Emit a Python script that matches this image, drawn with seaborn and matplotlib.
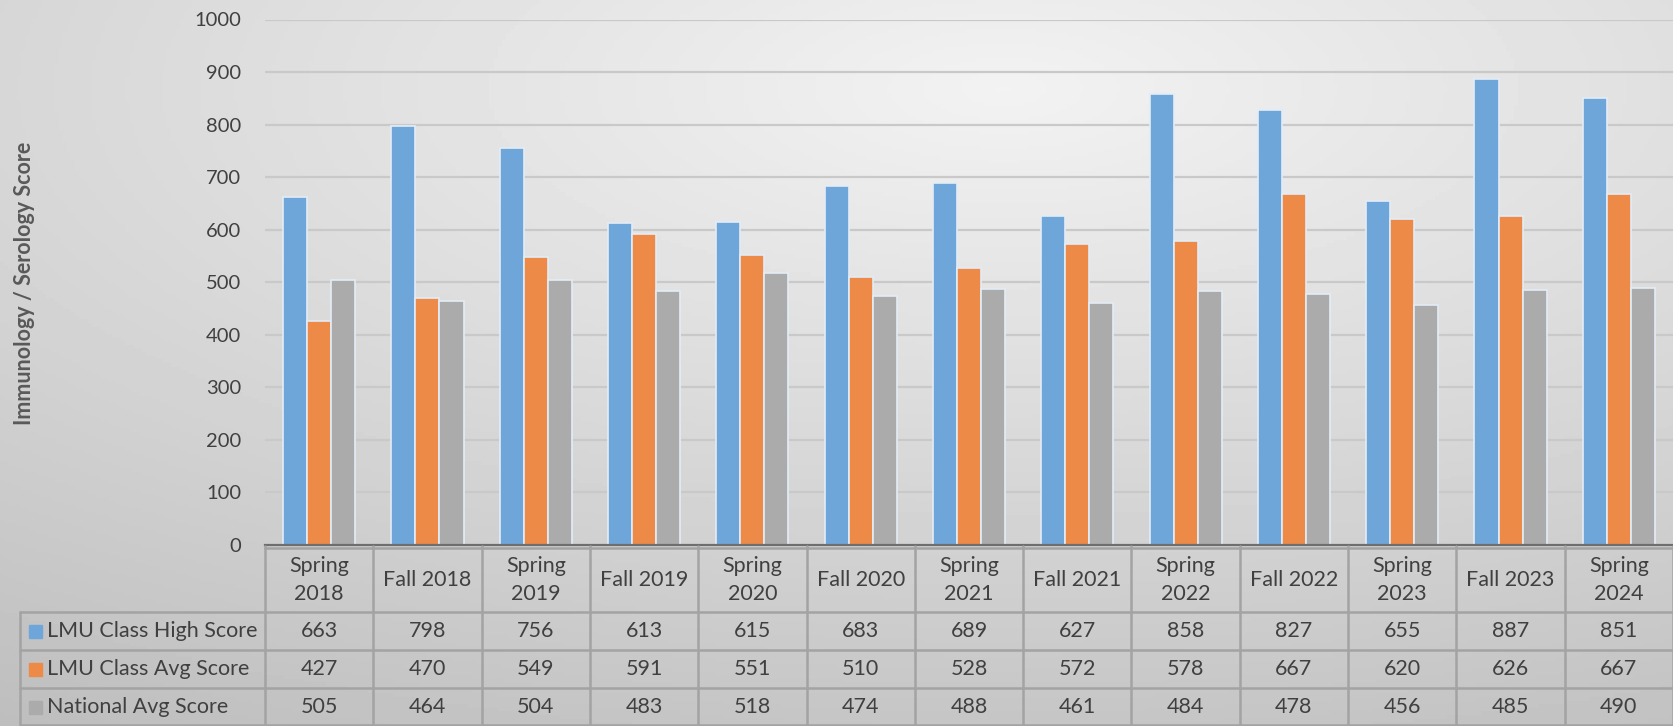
import numpy as np
import pandas as pd
import matplotlib
matplotlib.use("Agg")
import matplotlib.pyplot as plt
import seaborn as sns

categories = ["Spring\n2018", "Fall 2018", "Spring\n2019", "Fall 2019", "Spring\n2020", "Fall 2020",
              "Spring\n2021", "Fall 2021", "Spring\n2022", "Fall 2022", "Spring\n2023", "Fall 2023",
              "Spring\n2024"]
series_names = ["LMU Class High Score", "LMU Class Avg Score", "National Avg Score"]
high_score = [663, 798, 756, 613, 615, 683, 689, 627, 858, 827, 655, 887, 851]
avg_score = [427, 470, 549, 591, 551, 510, 528, 572, 578, 667, 620, 626, 667]
national_avg = [505, 464, 504, 483, 518, 474, 488, 461, 484, 478, 456, 485, 490]
y_ticks = [0, 100, 200, 300, 400, 500, 600, 700, 800, 900, 1000]
y_label = "Immunology / Serology Score"
colors = ["#6FA6DA", "#EE8A48", "#ABABAB"]

series_values = [high_score, avg_score, national_avg]
df = pd.DataFrame({
    "cat": categories * 3,
    "series": sum([[s] * len(categories) for s in series_names], []),
    "value": high_score + avg_score + national_avg,
})

sns.set_theme(style="white")
FONT = ["Lato", "DejaVu Sans"]
plt.rcParams["font.family"] = FONT
TXT = "#404040"

W, H = 1673, 726
fig = plt.figure(figsize=(W / 100, H / 100), dpi=100)

# background gradient
bg = fig.add_axes([0, 0, 1, 1], zorder=-10)
xx, yy = np.meshgrid(np.linspace(0, 1, 400), np.linspace(0, 1, 200))
dist = np.sqrt(((xx - 0.6) / 1.0) ** 2 + ((yy - 0.12) / 0.9) ** 2)
img = 0.95 - 0.18 * dist
bg.imshow(img, cmap="gray", vmin=0, vmax=1, aspect="auto", extent=[0, 1, 1, 0])
bg.set_xlim(0, 1); bg.set_ylim(1, 0)
bg.axis("off")

# main axes
left_px, right_px, top_px, base_px = 265, 1673, 19.5, 545
ax = fig.add_axes([left_px / W, (H - base_px) / H, (right_px - left_px) / W, (base_px - top_px) / H])
ax.patch.set_alpha(0)
sns.barplot(data=df, x="cat", y="value", hue="series", palette=colors,
            width=2 / 3, gap=0, ax=ax, legend=False, saturation=1,
            edgecolor="#E3ECF6", linewidth=1.2, zorder=3)
ax.set_xlim(-0.5, len(categories) - 0.5)
ax.set_ylim(0, 1000)
ax.set_yticks(y_ticks)
ax.set_yticklabels([str(t) for t in y_ticks], fontsize=14.5, color=TXT)
ax.tick_params(axis="y", length=0, pad=17)
ax.set_xticks([])
ax.set_xlabel("")
ax.set_ylabel("")
for t in y_ticks[1:]:
    ax.axhline(t, color="#C9C9C9", lw=1.6, zorder=1)
for s in ["top", "right", "left"]:
    ax.spines[s].set_visible(False)
ax.spines["bottom"].set_color("#6E6E6E")
ax.spines["bottom"].set_linewidth(1.6)
ax.spines["bottom"].set_zorder(4)

fig.text(25 / W, 1 - 283 / H, y_label, rotation=90, ha="center", va="center",
         fontsize=15.5, fontweight="bold", color="#595959")

# data table overlay in pixel coords
ov = fig.add_axes([0, 0, 1, 1], zorder=5)
ov.set_xlim(0, W); ov.set_ylim(H, 0); ov.axis("off"); ov.patch.set_alpha(0)

def cat_px(x):
    disp = ax.transData.transform((x, 0))
    return ov.transData.inverted().transform(disp)[0]

table_left = 20
row_tops = [545, 612, 650, 688, 726]
LC = "#A3A3A3"
lw = 1.8
ncat = len(categories)
ov.plot([cat_px(-0.5), W], [548, 548], color=LC, lw=lw)
for y in row_tops[1:4]:
    ov.plot([table_left, W], [y, y], color=LC, lw=lw)
ov.plot([table_left, W], [725, 725], color=LC, lw=lw)
for i in range(ncat + 1):
    xp = cat_px(i - 0.5)
    ov.plot([xp, xp], [546, 726], color=LC, lw=lw)
ov.plot([table_left, table_left], [612, 726], color=LC, lw=lw)

FS = 15.5
for i, c in enumerate(categories):
    ov.text(cat_px(i), (row_tops[0] + row_tops[1]) / 2 + 2, c, ha="center", va="center",
            fontsize=FS, color=TXT, linespacing=1.5)
for r, (name, vals, col) in enumerate(zip(series_names, series_values, colors)):
    yc = (row_tops[r + 1] + row_tops[r + 2]) / 2
    ov.add_patch(plt.Rectangle((29, yc - 6), 13, 13, color=col))
    ov.text(47, yc, name, ha="left", va="center", fontsize=FS, color=TXT)
    for i, v in enumerate(vals):
        ov.text(cat_px(i), yc, str(v), ha="center", va="center", fontsize=FS, color=TXT)

fig.savefig("out.png", dpi=100)
